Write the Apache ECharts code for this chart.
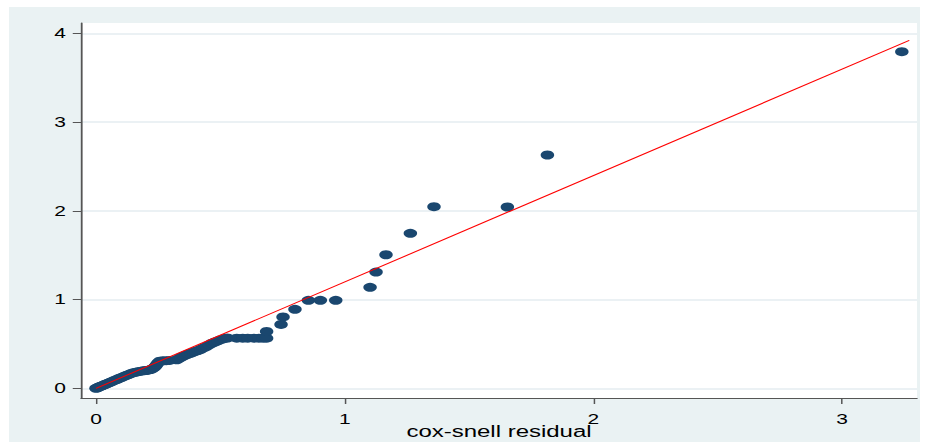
<!DOCTYPE html>
<html>
<head>
<meta charset="utf-8">
<script src="https://cdn.jsdelivr.net/npm/echarts@6/dist/echarts.min.js"></script>
<style>
html,body{margin:0;padding:0;background:#fff;}
#wrap{position:relative;width:928px;height:442px;overflow:hidden;background:#fff;}
#bg{position:absolute;left:9px;top:7px;width:911px;height:435px;background:#eaf2f3;}
#chart{position:absolute;left:0;top:0;width:619px;height:442px;transform:scaleX(1.499192);transform-origin:0 0;}
</style>
</head>
<body>
<div id="wrap"><div id="bg"></div><div id="chart"></div></div>
<script>
// cox-snell residual (x) and Nelson-Aalen cumulative hazard (y)
const residual = [
  0,0.005,0.01,0.015,0.02,0.026,0.032,0.038,0.045,0.052,0.059,0.066,0.074,0.082,0.09,0.098,
  0.106,0.115,0.124,0.133,0.142,0.151,0.16,0.17,0.18,0.19,0.2,0.21,0.22,0.228,0.234,0.24,
  0.245,0.25,0.256,0.268,0.282,0.296,
  0.325,0.333,0.342,0.352,0.362,0.372,0.382,0.392,0.402,0.412,0.422,0.432,0.444,0.455,0.466,
  0.478,0.49,0.502,0.515,0.528,
  0.566,0.59,0.61,0.635,0.655,0.672,0.686,0.686,0.744,0.752,0.8,0.854,0.902,0.964,
  1.102,1.126,1.166,1.264,1.359,1.654,1.815,3.24
];
const cumHazard = [
  0,0.006,0.012,0.018,0.024,0.031,0.038,0.046,0.054,0.062,0.071,0.079,0.089,0.098,0.108,0.117,
  0.127,0.137,0.148,0.158,0.168,0.176,0.182,0.188,0.193,0.197,0.201,0.205,0.212,0.222,0.236,0.252,
  0.27,0.29,0.306,0.31,0.312,0.314,
  0.322,0.335,0.35,0.364,0.376,0.388,0.398,0.408,0.418,0.428,0.44,0.455,0.47,0.49,0.508,
  0.522,0.535,0.548,0.56,0.567,
  0.565,0.565,0.565,0.565,0.565,0.565,0.565,0.64,0.72,0.805,0.89,0.991,0.991,0.991,
  1.138,1.31,1.505,1.746,2.046,2.043,2.629,3.793
];
// reference line
const refX = [0, 3.27];
const refY = [0, 3.92];
// tick labels
const xTicks = [0, 1, 2, 3];
const yTicks = [0, 1, 2, 3, 4];

const SX = 928 / 619;
const points = residual.map((x, i) => [x, cumHazard[i]]);
const refLine = refX.map((x, i) => [x, refY[i]]);

const chart = echarts.init(document.getElementById('chart'), null, {renderer: 'svg', width: 619, height: 442});
const font = 'Liberation Sans, Arial, sans-serif';
chart.setOption({
  animation: false,
  grid: {left: 81 / SX, right: 619 - 917 / SX, top: 23, bottom: 44, show: true, backgroundColor: '#ffffff', borderWidth: 0, containLabel: false, outerBoundsMode: 'none'},
  xAxis: {
    type: 'value', min: -0.0603, max: 3.301,
    name: 'cox-snell residual', nameLocation: 'middle', nameGap: 27, nameMoveOverlap: false,
    nameTextStyle: {fontFamily: font, fontSize: 16, color: '#000', lineHeight: 12},
    axisLine: {show: true, onZero: false, lineStyle: {color: '#555', width: 1}},
    axisTick: {show: true, length: 6, customValues: xTicks, lineStyle: {color: '#555', width: 1}},
    axisLabel: {customValues: xTicks, margin: 16, fontSize: 14, lineHeight: 10, color: '#000', fontFamily: font},
    splitLine: {show: false}
  },
  yAxis: {
    type: 'value', min: -0.109, max: 4.116,
    axisLine: {show: true, onZero: false, lineStyle: {color: '#555', width: 1.2}},
    axisTick: {show: true, length: 5.5, customValues: yTicks, lineStyle: {color: '#555', width: 1}},
    axisLabel: {customValues: yTicks, margin: 10, fontSize: 14, color: '#000', fontFamily: font},
    splitLine: {show: true, lineStyle: {color: '#e4edf0', width: 1.5}}
  },
  series: [
    {type: 'scatter', data: points, symbol: 'circle', symbolSize: 9, itemStyle: {color: '#1a476f', opacity: 1}, z: 2},
    {type: 'line', data: refLine, symbol: 'none', lineStyle: {color: '#ff0000', width: 1}, z: 3}
  ]
});
</script>
</body>
</html>
